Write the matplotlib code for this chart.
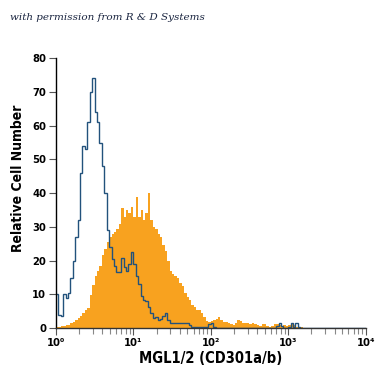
import numpy as np
import matplotlib
matplotlib.use("Agg")
import matplotlib.pyplot as plt
from matplotlib import font_manager as fm
from matplotlib.ticker import LogLocator, FixedLocator, NullFormatter

plt.rcParams['font.family'] = ['DejaVu Sans']

# 128 log-spaced channels from 10^0 to 10^4
n_bins = 128
decades = (0, 4)

control_counts = [
    10, 4, 3.5, 10, 9, 10.5, 15, 20, 27, 32,
    46, 54, 53, 61, 70, 74, 64, 61, 55, 48,
    40, 29, 24, 20.5, 18.5, 16.5, 16.5, 20.7, 18, 17,
    19, 22.5, 19, 15.5, 13, 9.5, 8.3, 8, 6.3, 4.5,
    3, 3.4, 2.4, 2.8, 3.5, 4.4, 2.4, 1.5, 1.5, 1.5,
    1.5, 1.5, 1.5, 1.5, 1.5, 1.0, 0.3, 0.2, 0.2, 0.2,
    0.2, 0.2, 0.2, 1.2, 1.5, 0.2, 0, 0, 0, 0,
    0, 0, 0, 0, 0, 0, 0, 0, 0, 0,
    0, 0, 0, 0, 0, 0, 0, 0, 0, 0,
    0, 0.5, 1.5, 0.5, 0, 0, 0.3, 1.5, 0.3, 1.5,
    0.3, 0, 0, 0, 0, 0, 0, 0, 0, 0,
    0, 0, 0, 0, 0, 0, 0, 0, 0, 0,
    0, 0, 0, 0, 0, 0, 0, 0,
]

stained_counts = [
    0.3, 0.4, 0.5, 0.6, 0.8, 1.0, 1.4, 1.8, 2.4, 2.9,
    3.6, 4.4, 5.4, 6.0, 9.8, 12.7, 15.5, 17, 18.5, 21.6,
    23.5, 25.5, 27, 28, 28.5, 29.5, 31, 35.5, 33, 35,
    34, 36, 33, 38.8, 33, 35, 32, 34, 40, 32,
    30, 29.5, 28, 27, 24.6, 23, 20, 17, 16, 15.5,
    15, 13.5, 12.5, 10.5, 9.3, 8.3, 7, 6.3, 5.5, 5.3,
    4.5, 3.4, 2.2, 1.9, 2.0, 2.4, 2.6, 3.4, 2.5, 1.8,
    1.8, 1.6, 1.1, 1.0, 1.5, 2.4, 2.2, 1.5, 1.4, 1.5,
    1.2, 1.5, 1.3, 0.8, 0.6, 1.3, 1.2, 0.5, 0.4, 0.6,
    1.3, 1.2, 0.8, 0.6, 1.0, 0.5, 1.0, 1.2, 0.8, 0.4,
    0.3, 0.2, 0, 0, 0, 0, 0, 0, 0, 0,
    0, 0, 0, 0, 0, 0, 0, 0, 0, 0,
    0, 0, 0, 0, 0, 0, 0, 0,
]

y_ticks = [0, 10, 20, 30, 40, 50, 60, 70, 80]
x_ticks = [1, 10, 100, 1000, 10000]
x_tick_labels = ['10\u2070', '10\u00b9', '10\u00b2', '10\u00b3', '10\u2074']

edges = np.logspace(decades[0], decades[1], n_bins + 1)

def cond(size):
    return fm.FontProperties(family='DejaVu Sans', stretch='condensed',
                             weight='bold', size=size)

fig = plt.figure(figsize=(3.75, 3.75), dpi=100)
ax = fig.add_axes([0.149, 0.125, 0.826, 0.72])

ax.stairs(stained_counts, edges, fill=True, color='#f8a21f', linewidth=0)
ax.stairs(control_counts, edges, baseline=None, color='#22527c', linewidth=1.0)

ax.set_xscale('log')
ax.set_xlim(1, 10000)
ax.set_ylim(0, 80)

ax.spines['top'].set_visible(False)
ax.spines['right'].set_visible(False)
ax.spines['left'].set_color('black')
ax.spines['bottom'].set_color('#333333')
ax.spines['left'].set_linewidth(1.0)
ax.spines['bottom'].set_linewidth(1.0)

ax.xaxis.set_major_locator(FixedLocator(x_ticks))
ax.set_xticklabels(x_tick_labels)
ax.xaxis.set_minor_locator(LogLocator(base=10, subs=np.arange(2, 10)))
ax.xaxis.set_minor_formatter(NullFormatter())
ax.set_yticks(y_ticks)

ax.tick_params(axis='both', which='major', length=5, width=0.8, color='#555555', pad=2)
ax.tick_params(axis='x', which='minor', length=4, width=0.8, color='#888888')
for lab in ax.get_xticklabels() + ax.get_yticklabels():
    lab.set_fontproperties(cond(8))

ax.set_xlabel('MGL1/2 (CD301a/b)', fontproperties=cond(10.5), labelpad=2)
ax.set_ylabel('Relative Cell Number', fontproperties=cond(10))
ax.yaxis.set_label_coords(-0.1, 0.556)

fig.text(0.027, 0.952, 'with permission from R & D Systems', fontsize=7.5,
         style='italic', family=['DejaVu Serif'], color='#1a2540', ha='left', va='center')

fig.savefig('out.png', dpi=100)
